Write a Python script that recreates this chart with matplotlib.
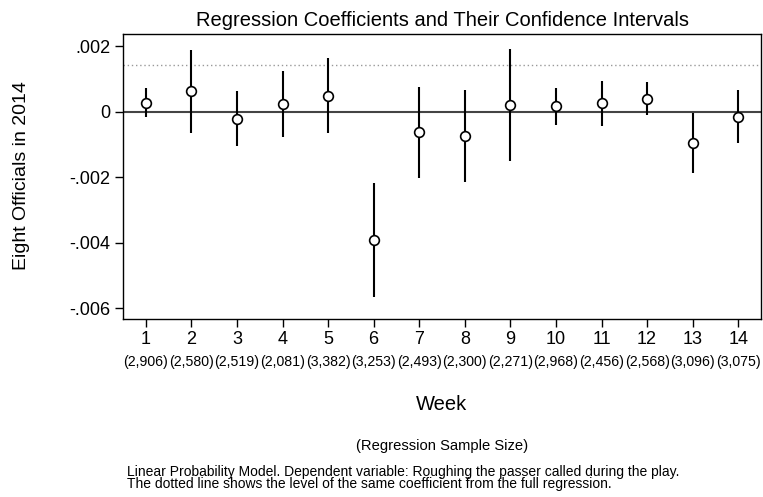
# Regression coefficients by week with confidence intervals
import matplotlib.pyplot as plt
import matplotlib.transforms as mtransforms

plt.rcParams['font.family'] = ['Liberation Sans', 'DejaVu Sans']

weeks = list(range(1, 15))
coef = [0.000275, 0.00063, -0.00021, 0.00024, 0.00049, -0.00392, -0.00062,
        -0.00074, 0.00021, 0.00016, 0.00026, 0.00039, -0.00095, -0.00015]
ci_hi = [0.00071, 0.00188, 0.00064, 0.00125, 0.00164, -0.00217, 0.00076,
         0.00066, 0.00191, 0.00071, 0.00093, 0.00089, -0.00003, 0.00066]
ci_lo = [-0.00017, -0.00064, -0.00105, -0.00076, -0.00066, -0.00565, -0.00202,
         -0.00215, -0.00150, -0.00041, -0.00043, -0.00010, -0.00188, -0.00097]
sample_size = ['2,906', '2,580', '2,519', '2,081', '3,382', '3,253', '2,493',
               '2,300', '2,271', '2,968', '2,456', '2,568', '3,096', '3,075']
full_coef = 0.00142

fig = plt.figure(figsize=(7.63, 4.97), dpi=100)
ax = fig.add_axes([123 / 763, 1 - 319 / 497, 638 / 763, 285 / 497])

ax.axhline(0, color='#444444', lw=1.5, zorder=1)
ax.axhline(full_coef, color='#999999', lw=1, ls=(0, (1, 2)), zorder=1)
ax.vlines(weeks, ci_lo, ci_hi, color='black', lw=1.5, zorder=2)
ax.plot(weeks, coef, 'o', mfc='white', mec='black', mew=1.2, ms=7, ls='none', zorder=3)

ax.set_xlim(0.5, 14.5)
ax.set_ylim(-0.00633, 0.00237)
ax.set_yticks([0.002, 0, -0.002, -0.004, -0.006])
ax.set_yticklabels(['.002', '0', '-.002', '-.004', '-.006'])
ax.set_xticks(weeks)
ax.tick_params(labelsize=13, length=6, width=1, direction='out', pad=3)
for s in ax.spines.values():
    s.set_linewidth(1)

trans = mtransforms.blended_transform_factory(ax.transData, fig.transFigure)
for w, n in zip(weeks, sample_size):
    ax.text(w, 1 - 362 / 497, '(' + n + ')', transform=trans, ha='center', va='center',
            fontsize=10.2)

ax.set_title('Regression Coefficients and Their Confidence Intervals', fontsize=14.5, pad=6)
fig.text(442 / 763, 1 - 405 / 497, 'Week', ha='center', va='center', fontsize=14.5)
fig.text(442 / 763, 1 - 446 / 497, '(Regression Sample Size)', ha='center', va='center',
         fontsize=10.6)
fig.text(22 / 763, 1 - 176 / 497, 'Eight Officials in 2014', rotation=90, ha='center',
         va='center', fontsize=14)
fig.text(127 / 763, 1 - 478 / 497,
         'Linear Probability Model. Dependent variable: Roughing the passer called during the play.\n'
         'The dotted line shows the level of the same coefficient from the full regression.',
         ha='left', va='center', fontsize=10, linespacing=0.9)

fig.savefig('out.png', dpi=100)
